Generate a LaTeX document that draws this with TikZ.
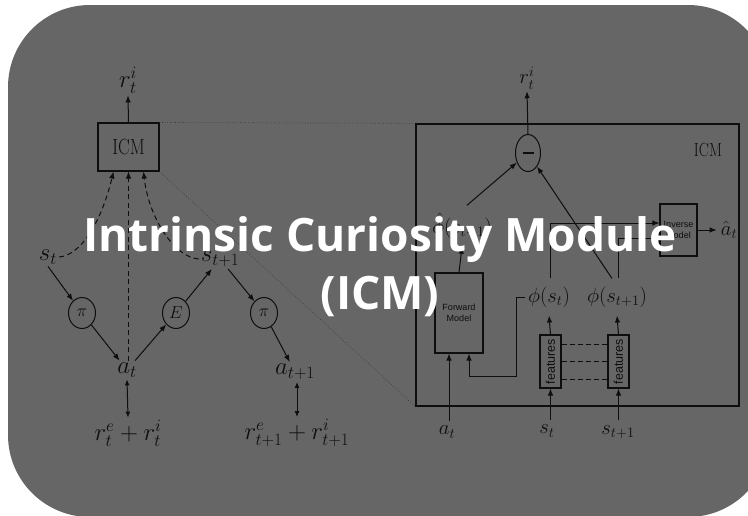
\documentclass[tikz,border=0pt]{standalone}
\usepackage{fontspec}
\usepackage{graphicx}
\newfontfamily\titlefont{Open Sans}
\newfontfamily\labelsans{Liberation Sans}
\usetikzlibrary{arrows.meta,shapes.geometric}
\definecolor{panelgray}{HTML}{666666}
\definecolor{ink}{HTML}{0E0E0E}

\begin{document}
\begin{tikzpicture}[x=1pt,y=-1pt,
  lab/.style={inner sep=2pt, font=\fontsize{23}{26}\selectfont, text=ink},
  rlab/.style={inner sep=2pt, font=\fontsize{21}{24}\selectfont, text=ink},
  blk/.style={draw=ink, line width=1.1pt, inner sep=0pt},
  circ/.style={ellipse, draw=ink, line width=1pt, inner sep=0pt,
    minimum width=27pt, minimum height=31pt, font=\fontsize{18}{20}\selectfont, text=ink},
  arr/.style={draw=ink, line width=1pt, -{Latex[length=7pt,width=5.5pt]}},
  darr/.style={arr, dash pattern=on 5pt off 3.5pt},
  dbl/.style={draw=ink, line width=1pt, {Latex[length=6pt,width=5pt]}-{Latex[length=6pt,width=5pt]}},
  dots/.style={draw=ink!85, line width=0.6pt, dotted},
  smallsans/.style={font=\labelsans\fontsize{9}{10.5}\selectfont, align=center, text=ink},
  modlab/.style={font=\fontsize{#1}{#1}\selectfont, text=ink, inner sep=0pt},
  headline/.style={text=white, inner sep=0pt, anchor=base,
    font=\titlefont\bfseries\fontsize{46}{52}\selectfont},
]
% canvas and rounded panel
\useasboundingbox (0,0) rectangle (748,515);
\fill[white] (0,0) rectangle (748,515);
\begin{scope}
  \clip (0,0) rectangle (748,515);
  \fill[panelgray, rounded corners=82pt] (8,5) rectangle (770,517);
\end{scope}

% ---------------- left: agent loop ----------------
\node[lab] (rA) at (128,80) {$r_t^i$};
\node[blk, minimum width=61pt, minimum height=48pt] (icmA) at (128.5,147)
  {\fontsize{22}{24}\selectfont\textcolor{ink}{\scalebox{0.8}[1]{ICM}}};
\draw[arr] (icmA.north) -- (rA.south);

\node[lab] (sA) at (48,257) {$s_t$};
\node[lab] (sB) at (220,259) {$s_{t+1}$};
\node[circ] (piA) at (82,313) {$\pi$};
\node[circ] (eA) at (176,313) {$E$};
\node[circ] (piB) at (264,313) {$\pi$};
\node[lab] (aA) at (127,370) {$a_t$};
\node[lab] (aB) at (295,372) {$a_{t+1}$};
\node[lab] (rwA) at (128,433) {$r_t^e + r_t^i$};
\node[lab] (rwB) at (297,433) {$r_{t+1}^e + r_{t+1}^i$};

\draw[arr] (sA.south) -- (piA);
\draw[arr] (piA) -- (aA);
\draw[arr] (aA) -- (eA);
\draw[arr] (eA) -- (sB);
\draw[arr] (sB) -- (piB);
\draw[arr] (piB) -- (aB);
\draw[dbl] (aA.south) -- (rwA.north);
\draw[dbl] (aB.south -| rwB.north) -- (rwB.north);

% inputs of the curiosity module
\draw[darr] (sA.east) .. controls +(22,-2) and +(-12,50) .. ([xshift=-15pt]icmA.south);
\draw[darr] (icmA.south |- aA.north) -- (icmA.south);
\draw[darr] (sB.west) .. controls +(-25,-2) and +(5,45) .. ([xshift=15pt]icmA.south);

% ---------------- right: inside the module ----------------
\node[blk, line width=1.3pt, minimum width=323pt, minimum height=282pt] (icmB) at (577.5,265) {};
\draw[dots] (icmA.north east) -- (icmB.north west);
\draw[dots] (icmA.south east) -- (icmB.south west);
\node[modlab=19] (icmlab) at (708,150) {\scalebox{0.8}[1]{ICM}};

\node[ellipse, draw=ink, line width=1pt, inner sep=0pt, minimum width=25pt, minimum height=37pt]
  (minus) at (528,153) {\textcolor{ink}{\rule{11pt}{2.4pt}}};
\node[rlab] (rB) at (527,78) {$r_t^i$};
\draw[arr] (minus.north) -- (rB.south);

\node[rlab, inner ysep=8pt] (hp) at (462,226) {$\hat\phi(s_{t+1})$};
\node[blk, minimum width=48pt, minimum height=80pt, smallsans] (fm) at (459,313) {Forward\\Model};
\node[blk, minimum width=37pt, minimum height=52pt, smallsans] (inv) at (678.5,230) {Inverse\\Model};
\node[rlab, inner sep=4pt] (ah) at (729,230) {$\hat a_t$};

\node[rlab, inner ysep=8pt, inner xsep=3pt] (p1) at (549,297) {$\phi(s_t)$};
\node[rlab, inner ysep=8pt, inner xsep=3pt] (p2) at (617,297) {$\phi(s_{t+1})$};

\node[blk, minimum width=21pt, minimum height=53pt] (f1) at (550.5,361.5)
  {\rotatebox{90}{\labelsans\fontsize{12.5}{13}\selectfont\textcolor{ink}{features}}};
\node[blk, minimum width=21pt, minimum height=53pt] (f2) at (618.5,361.5)
  {\rotatebox{90}{\labelsans\fontsize{12.5}{13}\selectfont\textcolor{ink}{features}}};

\node[rlab, inner ysep=5pt] (aC) at (447,432) {$a_t$};
\node[rlab, inner ysep=5pt] (sC) at (547,431) {$s_t$};
\node[rlab, inner ysep=5pt] (sD) at (618,432) {$s_{t+1}$};

\draw[arr] (fm.north) -- (hp.south);
\draw[arr] ([xshift=5pt]hp.north) -- (minus);
\draw[arr] ([xshift=-5pt]p2.north) -- (minus);
\draw[arr] (inv.east) -- (ah.west);
\draw[arr] (f1.north |- p1.north) |- ([yshift=7pt]inv.west);
\draw[arr] (f2.north |- p2.north) |- ([yshift=-8pt]inv.west);
\draw[arr] (p1.west) -- ++(-8,0) -- ++(0,79) -| ([xshift=10pt]fm.south);
\draw[arr] (f1.north) -- (p1.south);
\draw[arr] (f2.north) -- (p2.south);
\foreach \d in {17.5,0,-17.5}
  \draw[ink, line width=1pt, dash pattern=on 5pt off 3pt] ([yshift=\d pt]f1.east) -- ([yshift=\d pt]f2.west);
\draw[arr] ([xshift=-10pt]fm.south |- aC.north) -- ([xshift=-10pt]fm.south);
\draw[arr] (f1.south |- sC.north) -- (f1.south);
\draw[arr] (f2.south |- sD.north) -- (f2.south);

% ---------------- headline ----------------
\node[headline] (title1) at (380,251) {Intrinsic Curiosity Module};
\node[headline] (title2) at (380,309) {(ICM)};
\end{tikzpicture}
\end{document}
